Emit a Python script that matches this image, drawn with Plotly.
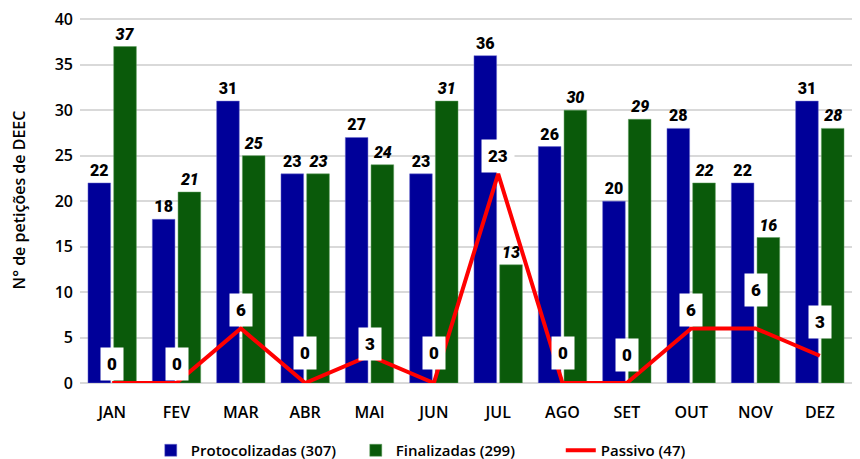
import plotly.graph_objects as go

months = ["JAN", "FEV", "MAR", "ABR", "MAI", "JUN", "JUL", "AGO", "SET", "OUT", "NOV", "DEZ"]
protocolizadas = [22, 18, 31, 23, 27, 23, 36, 26, 20, 28, 22, 31]
finalizadas = [37, 21, 25, 23, 24, 31, 13, 30, 29, 22, 16, 28]
passivo = [0, 0, 6, 0, 3, 0, 23, 0, 0, 6, 6, 3]

# label pixel offsets (style only)
passivo_yshift = [17, 17, 16, 28, 10, 28, 16, 28, 26, 16, 36, 32]

blue = "#000099"
green = "#0a5a0a"
red = "#ff0000"
lab_font = dict(family="Roboto", size=16, color="black", weight=900)
box_font = dict(family="Roboto", size=17, color="black", weight=900)
ax_font = dict(family="Open Sans", size=16, color="black", weight=600)
leg_font = dict(family="Open Sans", size=15, color="black", weight=600)

fig = go.Figure()
fig.add_trace(go.Bar(
    x=months, y=protocolizadas, name="Protocolizadas (307)",
    marker=dict(color=blue, line=dict(color="#6f6fd0", width=0.5)),
    text=protocolizadas, textposition="outside", textfont=lab_font,
    cliponaxis=False,
))
fig.add_trace(go.Bar(
    x=months, y=finalizadas, name="Finalizadas (299)",
    marker=dict(color=green, line=dict(color="#5f9f5f", width=0.5)),
    text=[f"<i>{v}</i>" for v in finalizadas], textposition="outside",
    textfont=lab_font, cliponaxis=False,
))
fig.add_trace(go.Scatter(
    x=months, y=passivo, name="Passivo (47)", mode="lines",
    line=dict(color=red, width=4), cliponaxis=False,
))

for m, v, s in zip(months, passivo, passivo_yshift):
    fig.add_annotation(
        x=m, y=v, text=str(v), showarrow=False, yshift=s + 2,
        bgcolor="white", borderpad=6, font=box_font,
    )

fig.update_layout(
    width=860, height=459,
    margin=dict(l=72, r=16, t=9, b=84),
    paper_bgcolor="white", plot_bgcolor="white",
    barmode="group", bargap=0.2, bargroupgap=0.12,
    font=ax_font,
    showlegend=True,
    legend=dict(orientation="h", x=0.49, xanchor="center",
                yref="container", y=8, yanchor="bottom",
                font=leg_font, itemwidth=30, traceorder="normal",
                entrywidth=160, entrywidthmode="pixels"),
    uniformtext=dict(mode=False),
)
fig.update_yaxes(
    range=[0, 40.25], tickvals=[0, 5, 10, 15, 20, 25, 30, 35, 40],
    showgrid=True, gridcolor="#d9d9d9", gridwidth=1.5,
    zeroline=True, zerolinecolor="#d9d9d9", zerolinewidth=1.5,
    title=dict(text="N° de petições de DEEC", standoff=26, font=ax_font),
    tickfont=ax_font, ticks="", automargin=False, ticklabelstandoff=6,
    ticklabeloverflow="allow",
)
fig.update_xaxes(
    tickfont=ax_font, ticks="", showline=False, automargin=False,
    ticklabelstandoff=18,
)

fig.write_html("out.html")
